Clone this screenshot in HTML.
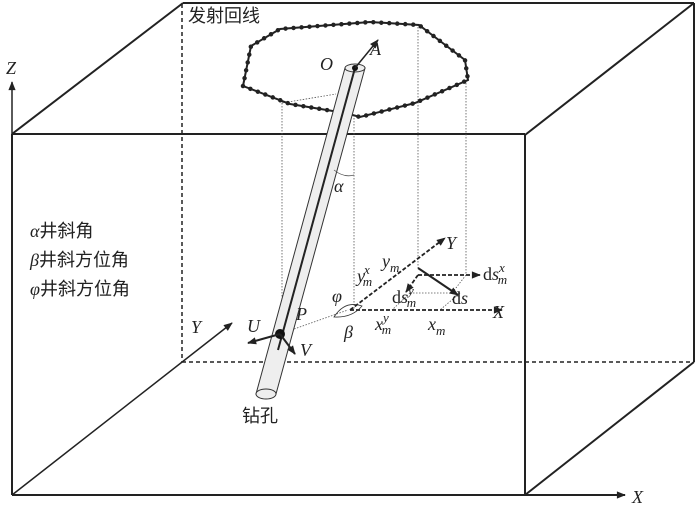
<!DOCTYPE html>
<html><head><meta charset="utf-8"><style>
body{margin:0;background:#fff}
svg{display:block}
text{font-family:"Liberation Serif","Noto Serif CJK SC",serif;font-style:italic;fill:#222}
.cn{font-family:"Liberation Sans","Noto Sans CJK SC",sans-serif;font-style:normal}
</style></head><body>
<svg width="700" height="508" viewBox="0 0 700 508" xmlns="http://www.w3.org/2000/svg">
<defs>
<marker id="ar" viewBox="0 0 10 10" refX="9" refY="5" markerWidth="11" markerHeight="9" markerUnits="userSpaceOnUse" orient="auto"><path d="M0,1 L10,5 L0,9 z" fill="#222"/></marker>
</defs>
<g stroke="#222" fill="none" stroke-width="2">
<line x1="183" y1="3" x2="694" y2="3"/>
<line x1="12" y1="134" x2="183" y2="3"/>
<line x1="525" y1="135" x2="694" y2="3"/>
<line x1="694" y1="3" x2="694" y2="362"/>
<line x1="525" y1="495" x2="694" y2="362"/>
<line x1="12" y1="134" x2="525" y2="134"/>
<line x1="525" y1="134" x2="525" y2="495"/>
<line x1="12" y1="134" x2="12" y2="495"/>
<line x1="12" y1="495" x2="625" y2="495" marker-end="url(#ar)"/>
<line x1="12" y1="148" x2="12" y2="82" marker-end="url(#ar)" stroke-width="1.5"/>
<line x1="12" y1="495" x2="232" y2="323" marker-end="url(#ar)" stroke-width="1.5"/>
</g>
<g stroke="#222" fill="none" stroke-width="1.5" stroke-dasharray="4,3">
<line x1="182" y1="4" x2="182" y2="362"/>
<line x1="182" y1="362" x2="694" y2="362"/>
</g>
<g stroke="#555" fill="none" stroke-width="0.8" stroke-dasharray="1.5,1.5">
<line x1="282" y1="103" x2="282" y2="334"/>
<line x1="282" y1="103" x2="336" y2="94"/>
<line x1="354" y1="115" x2="354" y2="310"/>
<line x1="418" y1="27" x2="418" y2="268"/>
<line x1="466" y1="80" x2="466" y2="275"/>
<line x1="280" y1="334" x2="348" y2="310"/>
<line x1="410" y1="293" x2="460" y2="293"/>
<line x1="410" y1="293" x2="392" y2="310"/>
<line x1="460" y1="293" x2="440" y2="310"/>
<line x1="466" y1="275" x2="452" y2="293"/>
</g>
<!-- loop -->
<polyline points="243,86 251,46 280,29 370,22 419,25 465,60 468,80 415,103 360,117 345,113 290,104 243,86" fill="none" stroke="#222" stroke-width="2"/>
<polyline points="243,86 251,46 280,29 370,22 419,25 465,60 468,80 415,103 360,117 345,113 290,104 243,86" fill="none" stroke="#222" stroke-width="4.5" stroke-dasharray="0,8" stroke-linecap="round"/>
<!-- borehole -->
<polygon points="345,68 365,68 276,394 256,394" fill="#eee" stroke="#333" stroke-width="1"/>
<ellipse cx="266" cy="394" rx="10" ry="5" fill="#eee" stroke="#333"/>
<ellipse cx="355" cy="68" rx="10" ry="4" fill="#eee" stroke="#333"/>
<line x1="355" y1="68" x2="278" y2="350" stroke="#222" stroke-width="2"/>
<circle cx="355" cy="68" r="3" fill="#111"/>
<line x1="355" y1="68" x2="378" y2="40" stroke="#222" stroke-width="1.5" marker-end="url(#ar)"/>
<path d="M334,170 Q344,178 354,175" fill="none" stroke="#555" stroke-width="0.8"/>
<circle cx="280" cy="334" r="5" fill="#111"/>
<line x1="280" y1="334" x2="248" y2="343" stroke="#222" stroke-width="2" marker-end="url(#ar)"/>
<line x1="280" y1="334" x2="295" y2="354" stroke="#222" stroke-width="2" marker-end="url(#ar)"/>
<!-- local axes -->
<g stroke="#222" stroke-width="1.8" stroke-dasharray="4,2" fill="none">
<line x1="350" y1="310" x2="502" y2="310" marker-end="url(#ar)"/>
<line x1="350" y1="310" x2="445" y2="238" marker-end="url(#ar)"/>
<line x1="418" y1="275" x2="480" y2="275" marker-end="url(#ar)"/>
<line x1="418" y1="275" x2="406" y2="292" marker-end="url(#ar)"/>
</g>
<line x1="418" y1="268" x2="458" y2="295" stroke="#222" stroke-width="2" marker-end="url(#ar)"/>
<path d="M334,317 Q345,300 362,306 Q352,318 334,317 Z" fill="none" stroke="#333" stroke-width="0.8"/>
<!-- labels -->
<text x="6" y="74" font-size="18">Z</text>
<text x="632" y="503" font-size="18">X</text>
<text x="191" y="333" font-size="18">Y</text>
<text class="cn" x="188" y="22" font-size="18">发射回线</text>
<text x="320" y="70" font-size="18">O</text>
<text x="370" y="55" font-size="18">A</text>
<text x="334" y="192" font-size="18">α</text>
<text x="30" y="237" font-size="18">α<tspan class="cn">井斜角</tspan></text>
<text x="30" y="266" font-size="18">β<tspan class="cn">井斜方位角</tspan></text>
<text x="30" y="295" font-size="18">φ<tspan class="cn">井斜方位角</tspan></text>
<text x="247" y="332" font-size="18">U</text>
<text x="296" y="320" font-size="18">P</text>
<text x="300" y="356" font-size="18">V</text>
<text class="cn" x="242" y="422" font-size="18">钻孔</text>
<text x="446" y="249" font-size="18">Y</text>
<text x="493" y="318" font-size="18">X</text>
<text x="382" y="267" font-size="18">y<tspan font-size="13" dy="5">m</tspan></text>
<text x="357" y="282" font-size="18">y<tspan font-size="13" dx="-1" dy="-8">x</tspan><tspan font-size="13" dx="-7" dy="12">m</tspan></text>
<text x="332" y="302" font-size="18">φ</text>
<text x="344" y="338" font-size="18">β</text>
<text x="375" y="330" font-size="18">x<tspan font-size="13" dy="-8">y</tspan><tspan font-size="13" dx="-7" dy="12">m</tspan></text>
<text x="428" y="330" font-size="18">x<tspan font-size="13" dy="5">m</tspan></text>
<text x="392" y="303" font-size="18"><tspan font-style="normal">d</tspan>s<tspan font-size="13" dy="-8">y</tspan><tspan font-size="13" dx="-7" dy="12">m</tspan></text>
<text x="452" y="304" font-size="18"><tspan font-style="normal">d</tspan>s</text>
<text x="483" y="280" font-size="18"><tspan font-style="normal">d</tspan>s<tspan font-size="13" dy="-8">x</tspan><tspan font-size="13" dx="-7" dy="12">m</tspan></text>
</svg>
</body></html>
